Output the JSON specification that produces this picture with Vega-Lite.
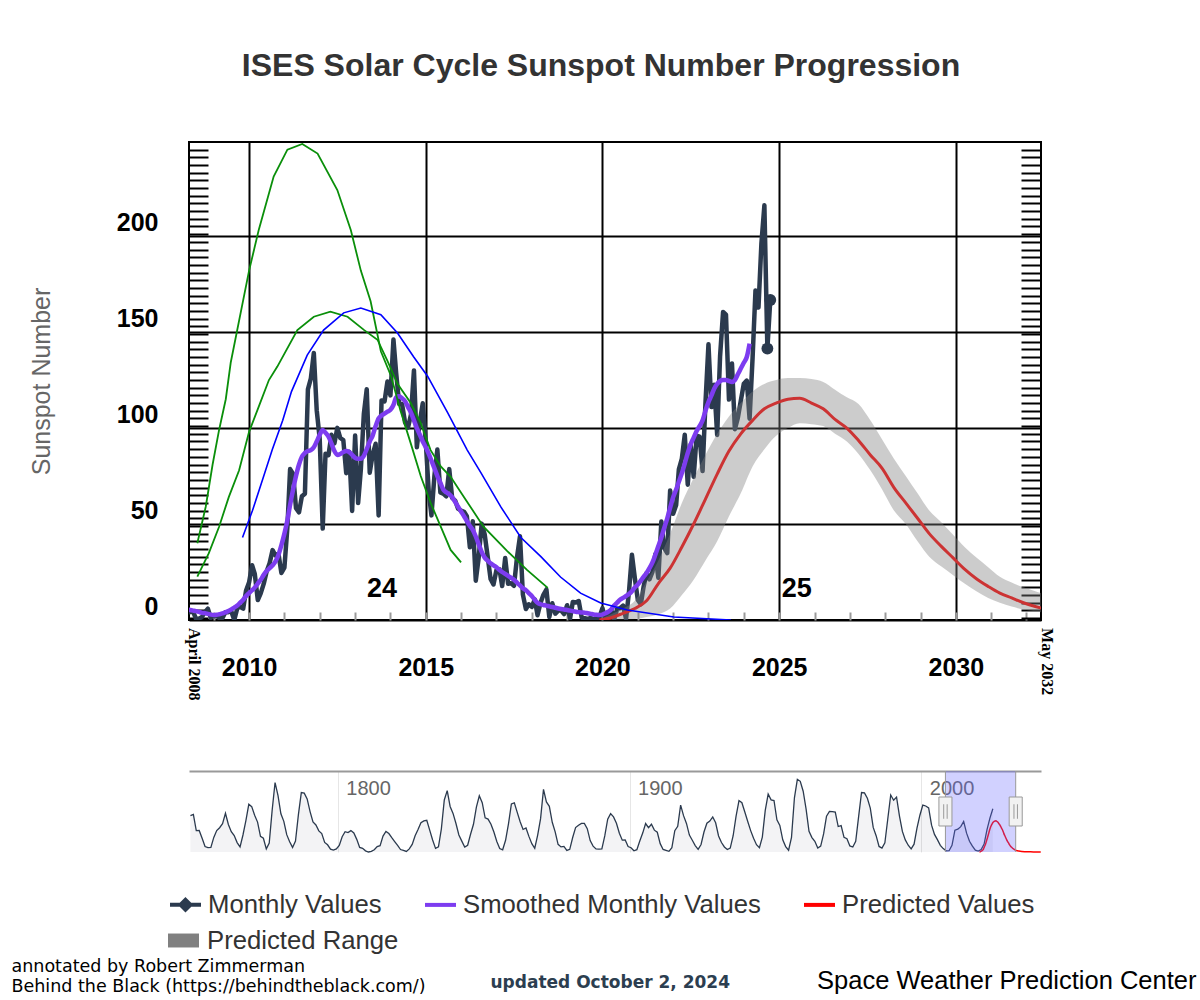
{
  "$schema": "https://vega.github.io/schema/vega-lite/v6.json",
  "background": "#ffffff",
  "padding": {"left": 10, "top": 50, "right": 5, "bottom": 5},
  "bounds": "flush",
  "spacing": 151,
  "config": {"font": "Liberation Sans", "view": {"stroke": null}},
  "title": {"text": "ISES Solar Cycle Sunspot Number Progression", "font": "Liberation Sans", "fontSize": 32, "fontWeight": "bold", "color": "#333333", "anchor": "middle", "frame": "group", "dx": -14, "offset": 33, "baseline": "alphabetic"},
  "datasets": {
    "monthly": [
      {"d":"2008-04","m":4.1,"s":5.5},{"d":"2008-05","m":4.1,"s":5.2},{"d":"2008-06","m":4.4,"s":4.9},{"d":"2008-07","m":0.7,"s":4.6},{"d":"2008-08","m":0.7,"s":4.2},{"d":"2008-09","m":1.6,"s":3.8},{"d":"2008-10","m":4.1,"s":3.6},{"d":"2008-11","m":5.9,"s":3.2},{"d":"2008-12","m":1.1,"s":2.8},
      {"d":"2009-01","m":2.1,"s":2.6},{"d":"2009-02","m":2.0,"s":2.7},{"d":"2009-03","m":1.0,"s":3.0},{"d":"2009-04","m":1.1,"s":3.4},{"d":"2009-05","m":4.1,"s":4.0},{"d":"2009-06","m":4.1,"s":4.7},{"d":"2009-07","m":4.6,"s":5.5},{"d":"2009-08","m":0.0,"s":6.5},{"d":"2009-09","m":6.1,"s":7.5},{"d":"2009-10","m":6.9,"s":9.0},{"d":"2009-11","m":5.9,"s":10.5},{"d":"2009-12","m":15.4,"s":12.5},
      {"d":"2010-01","m":19.6,"s":14},{"d":"2010-02","m":28.5,"s":15.5},{"d":"2010-03","m":24.0,"s":17},{"d":"2010-04","m":10.4,"s":19},{"d":"2010-05","m":13.9,"s":21},{"d":"2010-06","m":18.8,"s":23.5},{"d":"2010-07","m":25.2,"s":25.5},{"d":"2010-08","m":29.6,"s":27},{"d":"2010-09","m":36.4,"s":28.5},{"d":"2010-10","m":33.6,"s":30.5},{"d":"2010-11","m":34.4,"s":34},{"d":"2010-12","m":24.5,"s":39},
      {"d":"2011-01","m":27.3,"s":45},{"d":"2011-02","m":48.3,"s":52},{"d":"2011-03","m":78.6,"s":60},{"d":"2011-04","m":76.1,"s":68},{"d":"2011-05","m":58.2,"s":75},{"d":"2011-06","m":56.1,"s":81},{"d":"2011-07","m":64.5,"s":85},{"d":"2011-08","m":65.8,"s":87},{"d":"2011-09","m":120.1,"s":88},{"d":"2011-10","m":125.7,"s":88.5},{"d":"2011-11","m":139.1,"s":90},{"d":"2011-12","m":109.3,"s":93},
      {"d":"2012-01","m":94.4,"s":96.5},{"d":"2012-02","m":47.6,"s":99},{"d":"2012-03","m":86.6,"s":97.5},{"d":"2012-04","m":85.9,"s":95.5},{"d":"2012-05","m":96.5,"s":92},{"d":"2012-06","m":92.0,"s":88},{"d":"2012-07","m":100.1,"s":86},{"d":"2012-08","m":94.8,"s":86.5},{"d":"2012-09","m":93.7,"s":87.5},{"d":"2012-10","m":76.5,"s":88},{"d":"2012-11","m":87.6,"s":87.5},{"d":"2012-12","m":56.8,"s":86},
      {"d":"2013-01","m":96.1,"s":84.5},{"d":"2013-02","m":60.9,"s":84},{"d":"2013-03","m":78.3,"s":84},{"d":"2013-04","m":107.3,"s":85.5},{"d":"2013-05","m":120.2,"s":89},{"d":"2013-06","m":76.7,"s":93},{"d":"2013-07","m":86.2,"s":96},{"d":"2013-08","m":91.8,"s":101},{"d":"2013-09","m":54.5,"s":105},{"d":"2013-10","m":114.4,"s":106.5},{"d":"2013-11","m":113.9,"s":107.5},{"d":"2013-12","m":124.2,"s":108.5},
      {"d":"2014-01","m":117.0,"s":109.5},{"d":"2014-02","m":146.1,"s":112},{"d":"2014-03","m":128.7,"s":116},{"d":"2014-04","m":112.5,"s":116.5},{"d":"2014-05","m":112.5,"s":115.5},{"d":"2014-06","m":102.9,"s":114},{"d":"2014-07","m":100.2,"s":111},{"d":"2014-08","m":106.9,"s":108},{"d":"2014-09","m":130.0,"s":104},{"d":"2014-10","m":90.0,"s":100},{"d":"2014-11","m":103.6,"s":96.5},{"d":"2014-12","m":112.9,"s":93},
      {"d":"2015-01","m":93.0,"s":90},{"d":"2015-02","m":66.7,"s":86.5},{"d":"2015-03","m":54.5,"s":83},{"d":"2015-04","m":75.3,"s":79},{"d":"2015-05","m":88.8,"s":75},{"d":"2015-06","m":66.5,"s":71.5},{"d":"2015-07","m":65.8,"s":68},{"d":"2015-08","m":64.4,"s":66.5},{"d":"2015-09","m":78.6,"s":65.5},{"d":"2015-10","m":63.6,"s":64},{"d":"2015-11","m":62.2,"s":61.5},{"d":"2015-12","m":58.0,"s":59},
      {"d":"2016-01","m":57.0,"s":56.5},{"d":"2016-02","m":56.4,"s":54},{"d":"2016-03","m":54.1,"s":51.5},{"d":"2016-04","m":37.9,"s":49},{"d":"2016-05","m":51.5,"s":47},{"d":"2016-06","m":20.5,"s":43.5},{"d":"2016-07","m":32.4,"s":39.5},{"d":"2016-08","m":50.2,"s":35.5},{"d":"2016-09","m":44.6,"s":32.5},{"d":"2016-10","m":33.4,"s":31},{"d":"2016-11","m":21.4,"s":29.5},{"d":"2016-12","m":18.5,"s":28.5},
      {"d":"2017-01","m":26.1,"s":27.5},{"d":"2017-02","m":26.4,"s":26},{"d":"2017-03","m":17.7,"s":25},{"d":"2017-04","m":32.3,"s":24},{"d":"2017-05","m":18.9,"s":23},{"d":"2017-06","m":19.2,"s":22},{"d":"2017-07","m":17.8,"s":21},{"d":"2017-08","m":32.6,"s":19.5},{"d":"2017-09","m":43.6,"s":18},{"d":"2017-10","m":13.2,"s":16.5},{"d":"2017-11","m":5.7,"s":15.5},{"d":"2017-12","m":8.2,"s":14},
      {"d":"2018-01","m":6.8,"s":12.5},{"d":"2018-02","m":10.7,"s":10.5},{"d":"2018-03","m":2.5,"s":9},{"d":"2018-04","m":8.9,"s":8.2},{"d":"2018-05","m":13.1,"s":7.8},{"d":"2018-06","m":15.9,"s":7.5},{"d":"2018-07","m":1.6,"s":7.1},{"d":"2018-08","m":8.7,"s":6.8},{"d":"2018-09","m":3.3,"s":6.4},{"d":"2018-10","m":4.9,"s":6},{"d":"2018-11","m":4.9,"s":5.7},{"d":"2018-12","m":3.1,"s":5.5},
      {"d":"2019-01","m":7.7,"s":5.2},{"d":"2019-02","m":0.8,"s":4.9},{"d":"2019-03","m":9.4,"s":4.6},{"d":"2019-04","m":9.1,"s":4.3},{"d":"2019-05","m":9.9,"s":4.1},{"d":"2019-06","m":1.2,"s":3.9},{"d":"2019-07","m":0.9,"s":3.8},{"d":"2019-08","m":0.5,"s":3.5},{"d":"2019-09","m":1.1,"s":3.2},{"d":"2019-10","m":0.4,"s":2.9},{"d":"2019-11","m":0.5,"s":2.7},{"d":"2019-12","m":1.5,"s":2.6},
      {"d":"2020-01","m":6.2,"s":2.8},{"d":"2020-02","m":0.2,"s":3.5},{"d":"2020-03","m":1.5,"s":4.3},{"d":"2020-04","m":5.2,"s":5.5},{"d":"2020-05","m":0.2,"s":7.5},{"d":"2020-06","m":5.8,"s":9},{"d":"2020-07","m":6.1,"s":10.5},{"d":"2020-08","m":7.5,"s":11.5},{"d":"2020-09","m":0.6,"s":12.5},{"d":"2020-10","m":14.4,"s":13.5},{"d":"2020-11","m":34.0,"s":15},{"d":"2020-12","m":21.8,"s":17},
      {"d":"2021-01","m":10.4,"s":18.5},{"d":"2021-02","m":8.2,"s":20.5},{"d":"2021-03","m":17.2,"s":22.5},{"d":"2021-04","m":24.5,"s":24.5},{"d":"2021-05","m":21.2,"s":27},{"d":"2021-06","m":25.0,"s":30},{"d":"2021-07","m":34.3,"s":34},{"d":"2021-08","m":22.0,"s":38.5},{"d":"2021-09","m":51.3,"s":43},{"d":"2021-10","m":37.4,"s":48},{"d":"2021-11","m":34.8,"s":53},{"d":"2021-12","m":67.5,"s":58.5},
      {"d":"2022-01","m":55.3,"s":64},{"d":"2022-02","m":59.9,"s":68},{"d":"2022-03","m":78.5,"s":72},{"d":"2022-04","m":84.1,"s":76.5},{"d":"2022-05","m":96.5,"s":81.5},{"d":"2022-06","m":70.5,"s":87},{"d":"2022-07","m":91.4,"s":91.5},{"d":"2022-08","m":74.6,"s":95},{"d":"2022-09","m":96.0,"s":98.5},{"d":"2022-10","m":95.5,"s":101},{"d":"2022-11","m":77.6,"s":104},{"d":"2022-12","m":113.1,"s":109},
      {"d":"2023-01","m":143.6,"s":113.5},{"d":"2023-02","m":110.9,"s":117},{"d":"2023-03","m":122.6,"s":120.5},{"d":"2023-04","m":96.4,"s":123},{"d":"2023-05","m":137.4,"s":124.5},{"d":"2023-06","m":160.5,"s":125},{"d":"2023-07","m":159.1,"s":125},{"d":"2023-08","m":114.8,"s":124.5},{"d":"2023-09","m":133.6,"s":124},{"d":"2023-10","m":99.4,"s":125},{"d":"2023-11","m":105.4,"s":128},{"d":"2023-12","m":114.2,"s":131},
      {"d":"2024-01","m":123.0,"s":134},{"d":"2024-02","m":124.7,"s":137},{"d":"2024-03","m":104.9,"s":144},{"d":"2024-04","m":136.5},{"d":"2024-05","m":171.7},{"d":"2024-06","m":162.8},{"d":"2024-07","m":196.0},{"d":"2024-08","m":216.0},{"d":"2024-09","m":141.4},{"d":"2024-10","m":166.7}
    ],
    "pred": [
      {"d":"2019-12","p":0,"lo":0,"hi":0.5},{"d":"2020-04","p":1.2,"lo":0.2,"hi":3},{"d":"2020-08","p":3.5,"lo":0.3,"hi":6},{"d":"2020-12","p":6,"lo":0.5,"hi":10},{"d":"2021-04","p":10,"lo":1.5,"hi":20},{"d":"2021-08","p":19,"lo":3,"hi":31},{"d":"2021-12","p":27,"lo":6,"hi":45},{"d":"2022-04","p":38,"lo":13,"hi":61},{"d":"2022-08","p":50,"lo":21,"hi":74},{"d":"2022-12","p":63,"lo":31,"hi":86},{"d":"2023-04","p":76,"lo":41,"hi":97},{"d":"2023-08","p":88,"lo":54,"hi":106},{"d":"2023-12","p":97,"lo":66,"hi":113},{"d":"2024-04","p":104,"lo":80,"hi":119},{"d":"2024-08","p":110,"lo":89,"hi":123},{"d":"2024-12","p":113,"lo":96,"hi":125},{"d":"2025-04","p":115,"lo":100,"hi":126},{"d":"2025-08","p":115.5,"lo":102.5,"hi":126},{"d":"2025-12","p":113,"lo":102,"hi":125.5},{"d":"2026-04","p":110,"lo":101,"hi":124},{"d":"2026-08","p":104.5,"lo":97,"hi":120},{"d":"2026-12","p":100,"lo":93,"hi":116},{"d":"2027-04","p":93.5,"lo":86.5,"hi":112.5},{"d":"2027-08","p":86,"lo":78,"hi":104},{"d":"2027-12","p":79,"lo":68,"hi":94},{"d":"2028-04","p":69,"lo":57,"hi":84},{"d":"2028-08","p":61,"lo":50,"hi":75},{"d":"2028-12","p":53,"lo":41,"hi":66},{"d":"2029-04","p":45,"lo":33,"hi":57},{"d":"2029-08","p":38.5,"lo":28,"hi":51},{"d":"2029-12","p":32.5,"lo":23.5,"hi":44.5},{"d":"2030-04","p":26.5,"lo":19,"hi":38},{"d":"2030-08","p":21.5,"lo":15,"hi":32.5},{"d":"2030-12","p":17.5,"lo":11.5,"hi":27.5},{"d":"2031-04","p":14,"lo":9,"hi":22.5},{"d":"2031-08","p":11.5,"lo":7,"hi":19.5},{"d":"2031-12","p":9,"lo":5.5,"hi":17},{"d":"2032-04","p":7,"lo":4.5,"hi":15},{"d":"2032-08","p":5.5,"lo":3.5,"hi":13},{"d":"2033-06","p":3.5,"lo":2,"hi":9},{"d":"2034-06","p":2,"lo":1,"hi":6},{"d":"2035-06","p":1.2,"lo":0.5,"hi":4},{"d":"2036-06","p":0.8,"lo":0.3,"hi":3},{"d":"2037-06","p":0.5,"lo":0.2,"hi":2},{"d":"2038-06","p":0.3,"lo":0.1,"hi":1.5},{"d":"2039-06","p":0.2,"lo":0.1,"hi":1},{"d":"2040-12","p":0.1,"lo":0,"hi":0.8}
    ],
    "g1": [
      {"d":"2008-07-15","v":40},{"d":"2008-10-10","v":59},{"d":"2008-12-20","v":81},{"d":"2009-02-25","v":99},{"d":"2009-05-05","v":115},{"d":"2009-06-25","v":134},{"d":"2010-01-01","v":182},{"d":"2010-04-10","v":203},{"d":"2010-09-12","v":231},{"d":"2011-02-01","v":245},{"d":"2011-07-05","v":248},{"d":"2011-12-10","v":243},{"d":"2012-07-01","v":224},{"d":"2012-11-18","v":203},{"d":"2013-03-01","v":182},{"d":"2013-06-10","v":166},{"d":"2013-09-24","v":140},{"d":"2014-01-08","v":127},{"d":"2014-04-15","v":109},{"d":"2014-07-30","v":92},{"d":"2014-11-10","v":75},{"d":"2015-02-20","v":61},{"d":"2015-06-05","v":48.6},{"d":"2015-09-15","v":36.5},{"d":"2016-01-01","v":30}
    ],
    "g2": [
      {"d":"2008-07-15","v":22.6},{"d":"2008-11-10","v":34.7},{"d":"2009-02-25","v":48.6},{"d":"2009-06-05","v":64},{"d":"2009-09-20","v":78},{"d":"2010-01-01","v":98},{"d":"2010-04-10","v":111},{"d":"2010-07-25","v":125},{"d":"2010-10-20","v":132},{"d":"2011-05-15","v":151},{"d":"2011-11-01","v":158},{"d":"2012-04-20","v":160.6},{"d":"2012-10-15","v":158},{"d":"2013-04-05","v":151},{"d":"2013-08-20","v":146},{"d":"2013-12-01","v":135},{"d":"2014-03-15","v":123},{"d":"2014-07-30","v":113},{"d":"2014-11-10","v":102.6},{"d":"2015-02-20","v":88.5},{"d":"2015-06-05","v":80},{"d":"2015-09-15","v":74.6},{"d":"2016-02-01","v":64},{"d":"2016-08-20","v":48.6},{"d":"2017-04-20","v":36},{"d":"2017-11-15","v":26},{"d":"2018-06-15","v":16.7}
    ],
    "blue": [
      {"d":"2009-10-25","v":43},{"d":"2010-02-05","v":57},{"d":"2010-05-20","v":73},{"d":"2010-08-30","v":89},{"d":"2010-12-15","v":104},{"d":"2011-03-15","v":119},{"d":"2011-08-25","v":138},{"d":"2012-02-10","v":151},{"d":"2012-09-05","v":160},{"d":"2013-03-01","v":162.5},{"d":"2013-09-24","v":159},{"d":"2014-03-15","v":149.5},{"d":"2014-08-30","v":137},{"d":"2015-01-20","v":127},{"d":"2015-08-15","v":108},{"d":"2016-03-05","v":88.5},{"d":"2016-07-25","v":76.6},{"d":"2017-02-15","v":58.9},{"d":"2017-09-10","v":43},{"d":"2018-04-05","v":33},{"d":"2018-10-25","v":22.4},{"d":"2019-05-20","v":14},{"d":"2019-12-15","v":8.9},{"d":"2020-09-15","v":5.2},{"d":"2022-01-08","v":1.6},{"d":"2023-08-20","v":0}
    ],
    "labels": [
      {"d":"2013-10-05","v":16,"txt":"24"},{"d":"2025-07-01","v":16,"txt":"25"}
    ],
    "sides": [
      {"d":"2008-06-07","v":-4.2,"txt":"April 2008"},{"d":"2032-07-30","v":-4.2,"txt":"May 2032"}
    ],
    "hist": [
      {"d":"1749-07","v":134.7},{"d":"1750-07","v":139.0},{"d":"1751-07","v":79.5},{"d":"1752-07","v":79.7},{"d":"1753-07","v":51.2},{"d":"1754-07","v":20.3},{"d":"1755-07","v":16.0},{"d":"1756-07","v":17.0},{"d":"1757-07","v":54.0},{"d":"1758-07","v":79.3},{"d":"1759-07","v":90.0},
      {"d":"1760-07","v":104.8},{"d":"1761-07","v":143.2},{"d":"1762-07","v":102.0},{"d":"1763-07","v":75.2},{"d":"1764-07","v":60.7},{"d":"1765-07","v":34.8},{"d":"1766-07","v":19.0},{"d":"1767-07","v":63.0},{"d":"1768-07","v":116.3},{"d":"1769-07","v":176.8},
      {"d":"1770-07","v":168.0},{"d":"1771-07","v":136.0},{"d":"1772-07","v":110.8},{"d":"1773-07","v":58.0},{"d":"1774-07","v":51.0},{"d":"1775-07","v":11.7},{"d":"1776-07","v":33.0},{"d":"1777-07","v":154.2},{"d":"1778-07","v":257.3},{"d":"1779-07","v":209.8},
      {"d":"1780-07","v":141.3},{"d":"1781-07","v":113.5},{"d":"1782-07","v":64.2},{"d":"1783-07","v":38.0},{"d":"1784-07","v":17.0},{"d":"1785-07","v":40.2},{"d":"1786-07","v":138.2},{"d":"1787-07","v":220.0},{"d":"1788-07","v":218.2},{"d":"1789-07","v":196.8},
      {"d":"1790-07","v":149.8},{"d":"1791-07","v":111.0},{"d":"1792-07","v":100.0},{"d":"1793-07","v":78.2},{"d":"1794-07","v":68.3},{"d":"1795-07","v":35.5},{"d":"1796-07","v":26.7},{"d":"1797-07","v":10.7},{"d":"1798-07","v":6.8},{"d":"1799-07","v":11.3},
      {"d":"1800-07","v":24.2},{"d":"1801-07","v":56.7},{"d":"1802-07","v":75.0},{"d":"1803-07","v":71.8},{"d":"1804-07","v":79.2},{"d":"1805-07","v":70.3},{"d":"1806-07","v":46.8},{"d":"1807-07","v":16.8},{"d":"1808-07","v":13.5},{"d":"1809-07","v":4.2},
      {"d":"1810-07","v":0.0},{"d":"1811-07","v":2.3},{"d":"1812-07","v":8.3},{"d":"1813-07","v":20.3},{"d":"1814-07","v":23.2},{"d":"1815-07","v":59.0},{"d":"1816-07","v":76.3},{"d":"1817-07","v":68.3},{"d":"1818-07","v":52.9},{"d":"1819-07","v":38.5},
      {"d":"1820-07","v":24.2},{"d":"1821-07","v":9.2},{"d":"1822-07","v":6.3},{"d":"1823-07","v":2.2},{"d":"1824-07","v":11.4},{"d":"1825-07","v":28.2},{"d":"1826-07","v":59.9},{"d":"1827-07","v":83.0},{"d":"1828-07","v":108.5},{"d":"1829-07","v":115.2},
      {"d":"1830-07","v":117.4},{"d":"1831-07","v":80.8},{"d":"1832-07","v":44.3},{"d":"1833-07","v":13.4},{"d":"1834-07","v":19.5},{"d":"1835-07","v":85.8},{"d":"1836-07","v":192.7},{"d":"1837-07","v":227.3},{"d":"1838-07","v":168.7},{"d":"1839-07","v":143.0},
      {"d":"1840-07","v":105.5},{"d":"1841-07","v":63.3},{"d":"1842-07","v":40.3},{"d":"1843-07","v":18.1},{"d":"1844-07","v":25.1},{"d":"1845-07","v":65.8},{"d":"1846-07","v":102.7},{"d":"1847-07","v":166.3},{"d":"1848-07","v":208.3},{"d":"1849-07","v":182.5},
      {"d":"1850-07","v":126.3},{"d":"1851-07","v":122.0},{"d":"1852-07","v":102.7},{"d":"1853-07","v":74.1},{"d":"1854-07","v":39.0},{"d":"1855-07","v":12.7},{"d":"1856-07","v":8.2},{"d":"1857-07","v":43.4},{"d":"1858-07","v":104.4},{"d":"1859-07","v":178.3},
      {"d":"1860-07","v":182.2},{"d":"1861-07","v":146.6},{"d":"1862-07","v":112.1},{"d":"1863-07","v":83.5},{"d":"1864-07","v":89.2},{"d":"1865-07","v":57.8},{"d":"1866-07","v":30.7},{"d":"1867-07","v":13.9},{"d":"1868-07","v":62.8},{"d":"1869-07","v":123.6},
      {"d":"1870-07","v":232.0},{"d":"1871-07","v":185.3},{"d":"1872-07","v":169.2},{"d":"1873-07","v":110.1},{"d":"1874-07","v":74.5},{"d":"1875-07","v":28.3},{"d":"1876-07","v":18.9},{"d":"1877-07","v":20.7},{"d":"1878-07","v":5.7},{"d":"1879-07","v":10.0},
      {"d":"1880-07","v":53.7},{"d":"1881-07","v":90.5},{"d":"1882-07","v":99.0},{"d":"1883-07","v":106.1},{"d":"1884-07","v":105.8},{"d":"1885-07","v":86.3},{"d":"1886-07","v":42.4},{"d":"1887-07","v":21.8},{"d":"1888-07","v":11.2},{"d":"1889-07","v":10.4},
      {"d":"1890-07","v":11.8},{"d":"1891-07","v":59.5},{"d":"1892-07","v":121.7},{"d":"1893-07","v":142.0},{"d":"1894-07","v":130.0},{"d":"1895-07","v":106.6},{"d":"1896-07","v":69.4},{"d":"1897-07","v":43.8},{"d":"1898-07","v":44.4},{"d":"1899-07","v":20.2},
      {"d":"1900-07","v":15.7},{"d":"1901-07","v":4.6},{"d":"1902-07","v":8.5},{"d":"1903-07","v":40.8},{"d":"1904-07","v":70.1},{"d":"1905-07","v":105.5},{"d":"1906-07","v":90.1},{"d":"1907-07","v":102.8},{"d":"1908-07","v":80.9},{"d":"1909-07","v":73.2},
      {"d":"1910-07","v":30.9},{"d":"1911-07","v":9.5},{"d":"1912-07","v":6.0},{"d":"1913-07","v":2.4},{"d":"1914-07","v":16.1},{"d":"1915-07","v":79.0},{"d":"1916-07","v":95.0},{"d":"1917-07","v":173.6},{"d":"1918-07","v":134.6},{"d":"1919-07","v":105.7},
      {"d":"1920-07","v":62.7},{"d":"1921-07","v":43.5},{"d":"1922-07","v":23.7},{"d":"1923-07","v":9.7},{"d":"1924-07","v":27.9},{"d":"1925-07","v":74.0},{"d":"1926-07","v":106.5},{"d":"1927-07","v":114.7},{"d":"1928-07","v":129.7},{"d":"1929-07","v":108.2},
      {"d":"1930-07","v":59.4},{"d":"1931-07","v":35.1},{"d":"1932-07","v":18.6},{"d":"1933-07","v":9.2},{"d":"1934-07","v":14.6},{"d":"1935-07","v":60.2},{"d":"1936-07","v":132.8},{"d":"1937-07","v":190.6},{"d":"1938-07","v":182.6},{"d":"1939-07","v":148.0},
      {"d":"1940-07","v":113.0},{"d":"1941-07","v":79.2},{"d":"1942-07","v":50.8},{"d":"1943-07","v":27.1},{"d":"1944-07","v":16.1},{"d":"1945-07","v":55.3},{"d":"1946-07","v":154.3},{"d":"1947-07","v":214.7},{"d":"1948-07","v":193.0},{"d":"1949-07","v":190.7},
      {"d":"1950-07","v":118.9},{"d":"1951-07","v":98.3},{"d":"1952-07","v":45.0},{"d":"1953-07","v":20.1},{"d":"1954-07","v":6.6},{"d":"1955-07","v":54.2},{"d":"1956-07","v":200.7},{"d":"1957-07","v":269.3},{"d":"1958-07","v":261.7},{"d":"1959-07","v":225.1},
      {"d":"1960-07","v":159.0},{"d":"1961-07","v":76.4},{"d":"1962-07","v":53.4},{"d":"1963-07","v":39.9},{"d":"1964-07","v":15.0},{"d":"1965-07","v":22.0},{"d":"1966-07","v":66.8},{"d":"1967-07","v":132.9},{"d":"1968-07","v":150.0},{"d":"1969-07","v":149.4},
      {"d":"1970-07","v":148.0},{"d":"1971-07","v":94.4},{"d":"1972-07","v":97.6},{"d":"1973-07","v":54.1},{"d":"1974-07","v":49.2},{"d":"1975-07","v":22.5},{"d":"1976-07","v":18.4},{"d":"1977-07","v":39.3},{"d":"1978-07","v":131.0},{"d":"1979-07","v":220.1},
      {"d":"1980-07","v":218.9},{"d":"1981-07","v":198.9},{"d":"1982-07","v":162.4},{"d":"1983-07","v":91.0},{"d":"1984-07","v":60.5},{"d":"1985-07","v":20.6},{"d":"1986-07","v":14.8},{"d":"1987-07","v":33.9},{"d":"1988-07","v":123.0},{"d":"1989-07","v":211.1},
      {"d":"1990-07","v":191.8},{"d":"1991-07","v":203.3},{"d":"1992-07","v":133.0},{"d":"1993-07","v":76.1},{"d":"1994-07","v":44.9},{"d":"1995-07","v":25.1},{"d":"1996-07","v":11.6},{"d":"1997-07","v":28.9},{"d":"1998-07","v":88.3},{"d":"1999-07","v":136.3},
      {"d":"2000-07","v":173.9},{"d":"2001-07","v":170.4},{"d":"2002-07","v":163.6},{"d":"2003-07","v":99.3},{"d":"2004-07","v":65.3},{"d":"2005-07","v":45.8},{"d":"2006-07","v":24.7},{"d":"2007-07","v":12.6},{"d":"2008-07","v":4.2},{"d":"2009-07","v":4.8},
      {"d":"2010-07","v":24.9},{"d":"2011-07","v":80.8},{"d":"2012-07","v":84.5},{"d":"2013-07","v":94.0},{"d":"2014-07","v":113.3},{"d":"2015-07","v":69.8},{"d":"2016-07","v":39.8},{"d":"2017-07","v":21.7},{"d":"2018-07","v":7.0},{"d":"2019-07","v":3.6},
      {"d":"2020-07","v":8.8},{"d":"2021-07","v":29.6},{"d":"2022-07","v":83.2},{"d":"2023-07","v":125.5},{"d":"2024-07","v":160}
    ]
  },
  "vconcat": [
    {
      "width": 852,
      "height": 478,
      "view": {"stroke": "#000000", "strokeWidth": 2},
      "resolve": {"axis": {"x": "independent", "y": "independent"}},
      "layer": [
        {
          "data": {"name": "monthly"},
          "mark": {"type": "line", "strokeWidth": 4.5, "strokeJoin": "round", "strokeCap": "round", "clip": true},
          "encoding": {
            "x": {"field": "d", "type": "temporal",
              "scale": {"domain": [{"year": 2008, "month": 4, "date": 20}, {"year": 2032, "month": 5, "date": 30}]},
              "axis": {"values": [{"year": 2010}, {"year": 2015}, {"year": 2020}, {"year": 2025}, {"year": 2030}], "format": "%Y", "grid": true, "gridColor": "#000000", "gridWidth": 2, "gridOpacity": 1, "domain": false, "ticks": false, "tickSize": 0, "labelFont": "Liberation Sans", "labelFontSize": 25, "labelFontWeight": "bold", "labelColor": "#000000", "labelPadding": 47, "labelBaseline": "middle", "labelFlush": false, "labelOverlap": false, "title": "Universal Time", "titleFont": "Liberation Sans", "titleFontSize": 25, "titleFontWeight": "normal", "titleColor": "#666666", "titleX": 426, "titleY": 562, "titleBaseline": "middle", "titleAlign": "center"}},
            "y": {"field": "m", "type": "quantitative",
              "scale": {"domain": [0, 249], "nice": false},
              "axis": {"values": [0, 50, 100, 150, 200], "grid": true, "gridColor": "#000000", "gridWidth": 2, "gridOpacity": 1, "domain": false, "ticks": false, "tickSize": 0, "labelFont": "Liberation Sans", "labelFontSize": 25, "labelFontWeight": "bold", "labelColor": "#000000", "labelPadding": 31, "labelOffset": -14, "title": "Sunspot Number", "titleFont": "Liberation Sans", "titleFontSize": 25, "titleFontWeight": "normal", "titleColor": "#666666", "titleX": -148, "titleY": 239, "titleAngle": -90, "titleBaseline": "middle", "titleAlign": "center"}},
            "color": {"datum": "Monthly Values",
              "scale": {"domain": ["Monthly Values", "Smoothed Monthly Values", "Predicted Values"], "range": ["#2b3a4e", "#7d3cf0", "#ff0000"]},
              "legend": {"title": null, "orient": "none", "legendX": -21, "legendY": 745, "direction": "horizontal", "columnPadding": 35, "padding": 0, "labelFont": "Liberation Sans", "labelFontSize": 25.7, "labelColor": "#333333", "labelOffset": 5, "labelLimit": 500, "symbolSize": 961, "symbolStrokeWidth": 4, "symbolType": "stroke",
                "encode": {"symbols": {"update": {
                  "shape": {"signal": "datum.value === 'Monthly Values' ? 'M-1,0H1M0,-0.32L0.32,0L0,0.32L-0.32,0Z' : 'stroke'"},
                  "fill": {"signal": "datum.value === 'Monthly Values' ? '#2b3a4e' : 'transparent'"},
                  "stroke": {"signal": "datum.value === 'Monthly Values' ? '#2b3a4e' : (datum.value === 'Smoothed Monthly Values' ? '#7d3cf0' : '#ff0000')"},
                  "strokeWidth": {"value": 4},
                  "opacity": {"value": 1}
                }}}
              }}
          }
        },
        {
          "data": {"name": "monthly"},
          "mark": {"type": "line", "strokeWidth": 4.5, "interpolate": "monotone", "clip": true},
          "encoding": {
            "x": {"field": "d", "type": "temporal",
              "axis": {"orient": "top", "offset": -478, "values": [{"year": 2009}, {"year": 2010}, {"year": 2011}, {"year": 2012}, {"year": 2013}, {"year": 2014}, {"year": 2015}, {"year": 2016}, {"year": 2017}, {"year": 2018}, {"year": 2019}, {"year": 2020}, {"year": 2021}, {"year": 2022}, {"year": 2023}, {"year": 2024}, {"year": 2025}, {"year": 2026}, {"year": 2027}, {"year": 2028}, {"year": 2029}, {"year": 2030}, {"year": 2031}, {"year": 2032}], "ticks": true, "tickSize": 8, "tickColor": "#9a9a9a", "tickWidth": 2, "labels": false, "domain": false, "grid": false,
                "title": ["annotated by Robert Zimmerman", "Behind the Black (https://behindtheblack.com/)"], "titleX": -178, "titleY": 337, "titleAlign": "left", "titleBaseline": "top", "titleAngle": 0, "titleFont": "DejaVu Sans", "titleFontSize": 17.5, "titleFontWeight": "normal", "titleColor": "#000000", "titleLineHeight": 20}},
            "y": {"field": "s", "type": "quantitative",
              "axis": {"orient": "right", "offset": -852, "values": [1,5,9,13,17,21,25,29,33,37,41,45,49,53,57,61,65,69,73,77,81,85,89,93,97,101,105,109,113,117,121,125,129,133,137,141,145,149,153,157,161,165,169,173,177,181,185,189,193,197,201,205,209,213,217,221,225,229,233,237,241,245], "ticks": true, "tickSize": 19, "tickColor": "#000000", "tickWidth": 2, "labels": false, "domain": false, "grid": false, "title": null}},
            "color": {"datum": "Smoothed Monthly Values"}
          }
        },
        {
          "data": {"name": "pred"},
          "mark": {"type": "line", "strokeWidth": 3, "interpolate": "monotone", "clip": true},
          "encoding": {
            "x": {"field": "d", "type": "temporal", "axis": null},
            "y": {"field": "p", "type": "quantitative",
              "axis": {"orient": "left", "offset": -852, "values": [1,5,9,13,17,21,25,29,33,37,41,45,49,53,57,61,65,69,73,77,81,85,89,93,97,101,105,109,113,117,121,125,129,133,137,141,145,149,153,157,161,165,169,173,177,181,185,189,193,197,201,205,209,213,217,221,225,229,233,237,241,245], "ticks": true, "tickSize": 20, "tickColor": "#000000", "tickWidth": 2, "labels": false, "domain": false, "grid": false, "title": null}},
            "color": {"datum": "Predicted Values"}
          }
        },
        {
          "data": {"name": "pred"},
          "mark": {"type": "area", "opacity": 0.4, "interpolate": "monotone", "clip": true},
          "encoding": {
            "x": {"field": "d", "type": "temporal", "axis": null},
            "y": {"field": "lo", "type": "quantitative", "axis": null},
            "y2": {"field": "hi"},
            "fill": {"datum": "Predicted Range",
              "scale": {"domain": ["Predicted Range"], "range": ["#808080"]},
              "legend": {"title": null, "orient": "none", "legendX": -21, "legendY": 783, "direction": "horizontal", "padding": 0, "labelFont": "Liberation Sans", "labelFontSize": 25.7, "labelColor": "#333333", "labelOffset": 8, "labelLimit": 500, "symbolSize": 961, "symbolType": "M-1,-0.45H1V0.45H-1Z", "symbolFillColor": "#808080", "symbolOpacity": 1, "symbolStrokeWidth": 0,
                "encode": {"symbols": {"update": {
                  "shape": {"value": "M-1,-0.45H1V0.45H-1Z"},
                  "fill": {"value": "#808080"},
                  "opacity": {"value": 1},
                  "fillOpacity": {"value": 1},
                  "strokeWidth": {"value": 0}
                }}}
              }}
          }
        },
        {
          "data": {"name": "monthly"},
          "transform": [{"filter": {"field": "d", "gte": {"year": 2024, "month": 9, "date": 1}}}],
          "mark": {"type": "point", "filled": true, "size": 140, "color": "#2b3a4e", "opacity": 1},
          "encoding": {
            "x": {"field": "d", "type": "temporal", "axis": null},
            "y": {"field": "m", "type": "quantitative", "axis": null}
          }
        },
        {
          "data": {"name": "g1"},
          "mark": {"type": "line", "color": "#0a8f0a", "strokeWidth": 1.8, "clip": true},
          "encoding": {
            "x": {"field": "d", "type": "temporal", "axis": null},
            "y": {"field": "v", "type": "quantitative", "axis": null}
          }
        },
        {
          "data": {"name": "g2"},
          "mark": {"type": "line", "color": "#0a8f0a", "strokeWidth": 1.8, "clip": true},
          "encoding": {
            "x": {"field": "d", "type": "temporal", "axis": null},
            "y": {"field": "v", "type": "quantitative", "axis": null}
          }
        },
        {
          "data": {"name": "blue"},
          "mark": {"type": "line", "color": "#0000ff", "strokeWidth": 1.6, "clip": true},
          "encoding": {
            "x": {"field": "d", "type": "temporal", "axis": null},
            "y": {"field": "v", "type": "quantitative", "axis": null}
          }
        },
        {
          "data": {"name": "labels"},
          "mark": {"type": "text", "font": "Liberation Sans", "fontSize": 27, "fontWeight": "bold", "color": "#000000", "align": "center", "baseline": "middle"},
          "encoding": {
            "x": {"field": "d", "type": "temporal", "axis": null},
            "y": {"field": "v", "type": "quantitative", "axis": null},
            "text": {"field": "txt"}
          }
        },
        {
          "data": {"name": "sides"},
          "mark": {"type": "text", "font": "Liberation Serif", "fontSize": 16, "fontWeight": "bold", "color": "#000000", "angle": 90, "align": "left", "baseline": "middle"},
          "encoding": {
            "x": {"field": "d", "type": "temporal", "axis": null},
            "y": {"field": "v", "type": "quantitative", "axis": null},
            "text": {"field": "txt"}
          }
        }
      ]
    },
    {
      "width": 852,
      "height": 81,
      "resolve": {"axis": {"y": "independent"}},
      "layer": [
        {
          "data": {"name": "hist"},
          "mark": {"type": "area", "color": "#2b3a4e", "opacity": 0.06},
          "encoding": {
            "x": {"field": "d", "type": "temporal",
              "scale": {"domain": [{"year": 1749, "month": 1, "date": 1}, {"year": 2041, "month": 1, "date": 1}]},
              "axis": {"orient": "top", "values": [{"year": 1800}, {"year": 1900}, {"year": 2000}], "format": "%Y", "grid": true, "gridColor": "#e6e6e6", "gridWidth": 1, "domain": true, "domainColor": "#999999", "domainWidth": 2, "ticks": false, "tickSize": 0, "labelAlign": "left", "labelOffset": 8, "labelPadding": -17, "labelBaseline": "middle", "labelFont": "Liberation Sans", "labelFontSize": 20, "labelColor": "#666666", "labelFlush": false, "title": "Space Weather Prediction Center", "titleFont": "Liberation Sans", "titleFontSize": 25.5, "titleFontWeight": "normal", "titleColor": "#000000", "titleX": 1007, "titleY": 209, "titleAlign": "right", "titleBaseline": "middle", "titleAngle": 0}},
            "y": {"field": "v", "type": "quantitative", "scale": {"domain": [0, 300], "nice": false},
              "axis": {"orient": "left", "domain": false, "ticks": false, "labels": false, "grid": false, "title": "updated October 2, 2024", "titleX": 301, "titleY": 203, "titleAngle": 0, "titleAlign": "left", "titleBaseline": "top", "titleFont": "DejaVu Sans", "titleFontSize": 17, "titleFontWeight": "bold", "titleColor": "#2c3e50"}}
          }
        },
        {
          "data": {"name": "hist"},
          "mark": {"type": "line", "color": "#2b3a4e", "strokeWidth": 1.3},
          "encoding": {
            "x": {"field": "d", "type": "temporal"},
            "y": {"field": "v", "type": "quantitative", "axis": null}
          }
        },
        {
          "data": {"name": "pred"},
          "mark": {"type": "line", "color": "#ff0000", "strokeWidth": 1.5, "interpolate": "monotone"},
          "encoding": {
            "x": {"field": "d", "type": "temporal"},
            "y": {"field": "p", "type": "quantitative", "axis": null}
          }
        },
        {
          "data": {"values": [{"a": "2008-04-01", "b": "2032-05-01"}]},
          "mark": {"type": "rect", "color": "#6666ff", "opacity": 0.3},
          "encoding": {
            "x": {"field": "a", "type": "temporal"},
            "x2": {"field": "b"}
          }
        },
        {
          "data": {"values": [{"d": "2008-04-01"}, {"d": "2032-05-01"}]},
          "mark": {"type": "rule", "color": "#999999", "strokeWidth": 1},
          "encoding": {
            "x": {"field": "d", "type": "temporal"}
          }
        },
        {
          "data": {"values": [{"d": "2008-04-01"}, {"d": "2032-05-01"}]},
          "mark": {"type": "point", "shape": "M-0.45,-1H0.45V1H-0.45Z M-0.12,-0.5V0.5 M0.12,-0.5V0.5", "size": 841, "filled": true, "fill": "#f2f2f2", "stroke": "#999999", "strokeWidth": 1, "opacity": 1},
          "encoding": {
            "x": {"field": "d", "type": "temporal"},
            "y": {"datum": 150, "type": "quantitative", "axis": null}
          }
        }
      ]
    }
  ]
}
